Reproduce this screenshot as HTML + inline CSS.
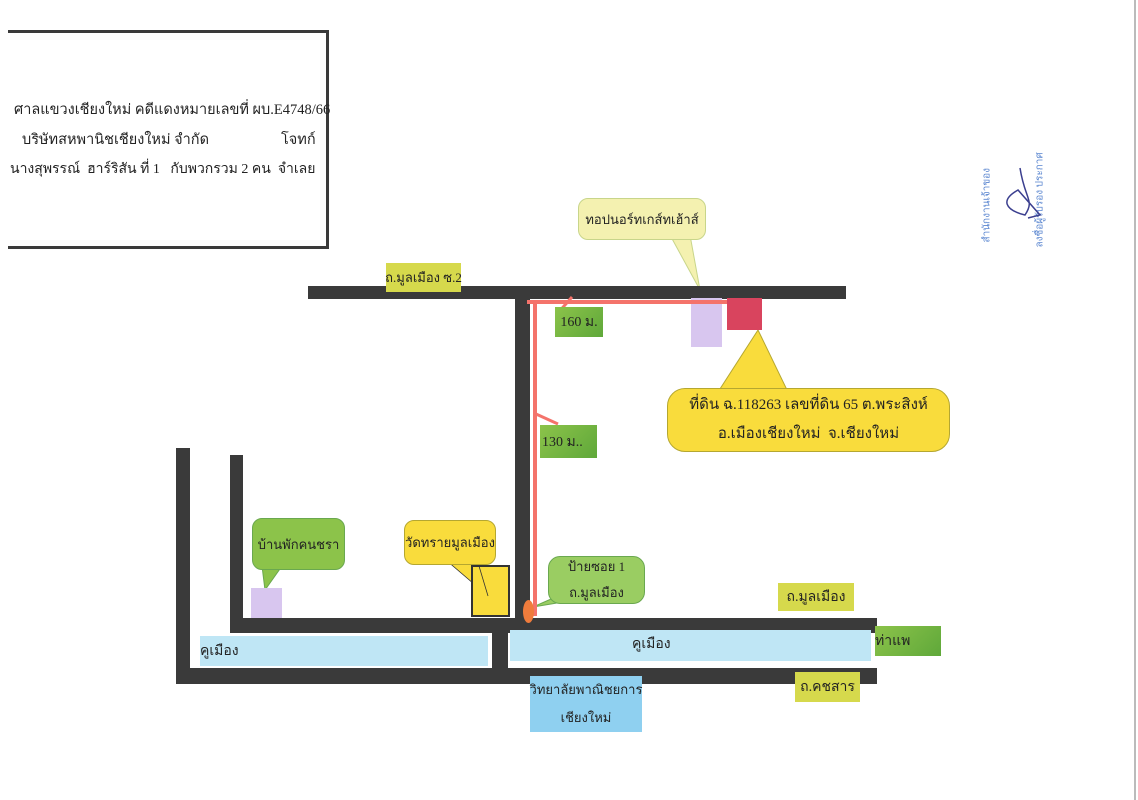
<!DOCTYPE html>
<html><head><meta charset="utf-8"><style>
body{margin:0;width:1138px;height:800px;position:relative;background:#fff;overflow:hidden;font-family:"Liberation Serif","Noto Serif CJK SC",serif;color:#222}
div{position:absolute;box-sizing:border-box}
.r{background:#3a3a3a}
.t{font-size:15px;white-space:nowrap}
.g{background:linear-gradient(135deg,#8cc34a,#5fa83a)}
.y{background:#d6d94c}
.c{display:flex;align-items:center;justify-content:center;text-align:center;white-space:nowrap}
</style></head><body>
<div style="left:8px;top:30px;width:321px;height:219px;border:3px solid #3a3a3a;border-left:none"></div>
<div class="t" style="left:14px;top:98px;font-size:14.5px">ศาลแขวงเชียงใหม่ คดีแดงหมายเลขที่ ผบ.E4748/66</div>
<div class="t" style="left:22px;top:128px;font-size:14.5px">บริษัทสหพานิชเชียงใหม่ จำกัด</div>
<div class="t" style="left:281px;top:128px;font-size:14.5px">โจทก์</div>
<div class="t" style="left:10px;top:158px;font-size:14px">นางสุพรรณ์ &nbsp;ฮาร์ริสัน ที่ 1 &nbsp; กับพวกรวม 2 คน &nbsp;จำเลย</div>
<div style="left:1134px;top:0;width:2px;height:800px;background:#bbb"></div>

<svg style="position:absolute;left:0;top:0" width="1138" height="800">
<polygon points="670,235 690,235 700,290" fill="#f4f1b0" stroke="#c8d58a"/>
<polygon points="758,330 718,392 788,392" fill="#f9dc3c" stroke="#b5a730"/>
<polygon points="262,566 282,566 265,590" fill="#8cc34a" stroke="#6aa84f"/>
<polygon points="446,560 474,560 488,596" fill="#f9dc3c" stroke="#333" stroke-width="0.8"/>
<polygon points="560,595 575,600 533,607" fill="#9acd62" stroke="#6aa84f"/>
</svg>
<div class="c" style="left:578px;top:198px;width:128px;height:42px;background:#f4f1b0;border:1px solid #c8d58a;border-radius:10px;font-size:13px">ทอปนอร์ทเกส์ทเฮ้าส์</div>
<div class="r" style="left:308px;top:286px;width:538px;height:13px"></div>
<div class="y c t" style="left:386px;top:263px;width:75px;height:29px;font-size:13px">ถ.มูลเมือง ซ.2</div>
<div class="r" style="left:515px;top:298px;width:15px;height:323px"></div>
<div style="left:691px;top:298px;width:31px;height:49px;background:#d8c6ef"></div>
<div style="left:727px;top:298px;width:35px;height:32px;background:#d9445e"></div>
<div style="left:527px;top:300px;width:200px;height:4px;background:#f4736b"></div>
<div style="left:533px;top:300px;width:4px;height:316px;background:#f4736b"></div>
<svg style="position:absolute;left:0;top:0" width="1138" height="800"><line x1="572" y1="297" x2="557" y2="314" stroke="#f4736b" stroke-width="3"/><line x1="536" y1="414" x2="558" y2="424" stroke="#f4736b" stroke-width="3"/></svg>
<div class="g c t" style="left:555px;top:307px;width:48px;height:30px;font-size:14px">160 ม.</div>
<div class="g c t" style="left:540px;top:425px;width:57px;height:33px;justify-content:flex-start;padding-left:2px;font-size:14px">130 ม..</div>
<div class="c" style="left:667px;top:388px;width:283px;height:64px;background:#f9dc3c;border:1px solid #b5a730;border-radius:18px;font-size:15px;line-height:29px">ที่ดิน ฉ.118263 เลขที่ดิน 65 ต.พระสิงห์<br>อ.เมืองเชียงใหม่ &nbsp;จ.เชียงใหม่</div>

<div class="r" style="left:176px;top:448px;width:14px;height:236px"></div>
<div class="r" style="left:230px;top:455px;width:13px;height:178px"></div>
<div class="r" style="left:230px;top:618px;width:647px;height:15px"></div>
<div class="r" style="left:176px;top:668px;width:701px;height:16px"></div>
<div class="r" style="left:492px;top:620px;width:16px;height:64px"></div>
<div style="left:200px;top:636px;width:288px;height:30px;background:#bfe6f5"></div>
<div style="left:510px;top:630px;width:361px;height:31px;background:#bfe6f5"></div>
<div class="t" style="left:200px;top:640px;font-size:14px">คูเมือง</div>
<div class="t" style="left:632px;top:633px;font-size:14px">คูเมือง</div>
<div style="left:251px;top:588px;width:31px;height:30px;background:#d8c6ef"></div>
<div class="c" style="left:252px;top:518px;width:93px;height:52px;background:#8cc34a;border:1px solid #6aa84f;border-radius:10px;font-size:13px">บ้านพักคนชรา</div>
<div style="left:471px;top:565px;width:39px;height:52px;background:#f9dc3c;border:2px solid #333"></div>
<div class="c" style="left:404px;top:520px;width:92px;height:45px;background:#f9dc3c;border:1px solid #b5a730;border-radius:10px;font-size:13px">วัดทรายมูลเมือง</div>
<svg style="position:absolute;left:0;top:0" width="1138" height="800"><line x1="479" y1="566" x2="488" y2="596" stroke="#333" stroke-width="0.8"/></svg>
<div style="left:523px;top:600px;width:11px;height:23px;border-radius:50%;background:#f07c3c"></div>
<div class="c" style="left:548px;top:556px;width:97px;height:48px;background:#9acd62;border:1px solid #6aa84f;border-radius:12px;font-size:13px;line-height:26px">ป้ายซอย 1<br>ถ.มูลเมือง</div>
<div class="y c t" style="left:778px;top:583px;width:76px;height:28px;font-size:14px">ถ.มูลเมือง</div>
<div class="g c t" style="left:875px;top:626px;width:66px;height:30px;font-size:14px;justify-content:flex-start">ท่าแพ</div>
<div class="y c t" style="left:795px;top:672px;width:65px;height:30px;font-size:14px">ถ.คชสาร</div>
<div class="c" style="left:530px;top:676px;width:112px;height:56px;background:#8fd0f0;font-size:13px;line-height:28px">วิทยาลัยพาณิชยการ<br>เชียงใหม่</div>

<div class="t" style="left:947px;top:195px;width:80px;transform:rotate(-90deg);color:#5a86d0;font-size:10px">สำนักงานเจ้าของ</div>
<div class="t" style="left:990px;top:190px;width:100px;transform:rotate(-90deg);color:#5a86d0;font-size:10px">ลงชื่อผู้รับรอง ประกาศ</div>
<svg style="position:absolute;left:0;top:0" width="1138" height="800"><path d="M1020,168 C1025,200 1035,200 1025,215 C1005,210 1000,200 1018,190 L1040,215 L1028,218" fill="none" stroke="#3b3f8f" stroke-width="1.5"/></svg>
</body></html>
